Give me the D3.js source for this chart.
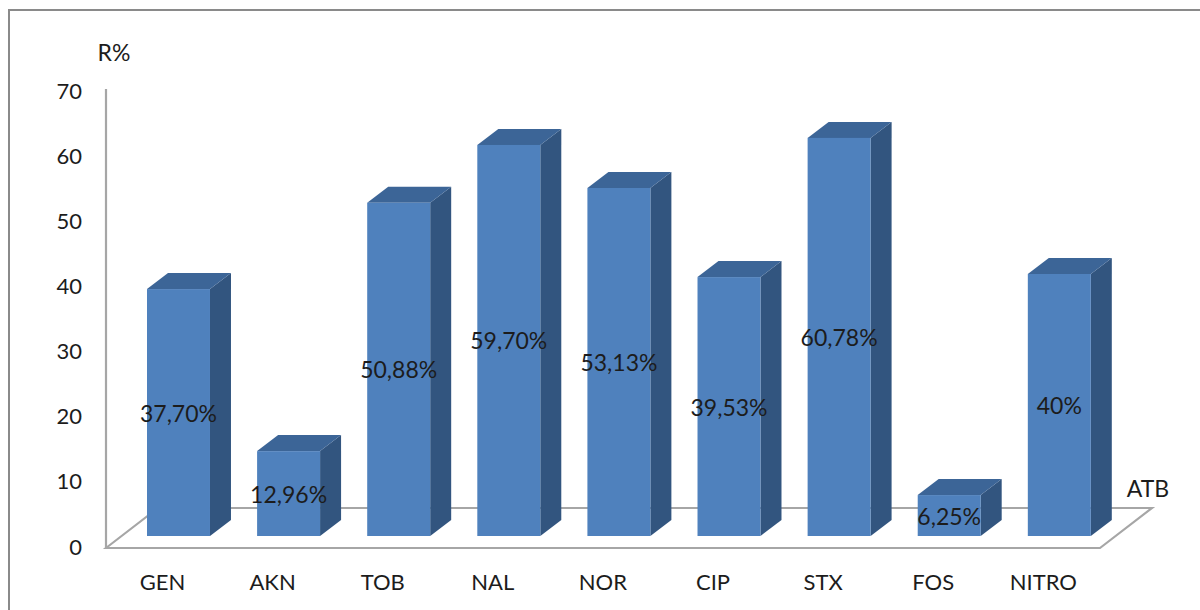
<!DOCTYPE html>
<html><head><meta charset="utf-8">
<script src="https://cdn.jsdelivr.net/npm/d3@7"></script>
<style>body{margin:0;background:#fff}svg{display:block}text{font-family:Lato,"Open Sans",sans-serif;fill:#1c1c1c}</style>
</head><body><svg id="c" width="1200" height="610"></svg>
<script>
const categories = ["GEN","AKN","TOB","NAL","NOR","CIP","STX","FOS","NITRO"];
const values = [37.70, 12.96, 50.88, 59.70, 53.13, 39.53, 60.78, 6.25, 40];
const valueLabels = ["37,70%","12,96%","50,88%","59,70%","53,13%","39,53%","60,78%","6,25%","40%"];
const yTicks = [0,10,20,30,40,50,60,70];
const yTitle = "R%";
const xTitle = "ATB";

const svg = d3.select("#c");
// chart border
svg.append("rect").attr("x",9).attr("y",10).attr("width",1230).attr("height",640)
  .attr("fill","none").attr("stroke","#8a8a8a").attr("stroke-width",2);

const x = d3.scaleBand().domain(categories).range([147, 1090.8]).paddingInner(0.428).paddingOuter(0);
const yBar = d3.scaleLinear().domain([0,70]).range([536, 536 - 70*6.55]);
const yAxisScale = d3.scaleLinear().domain([0,70]).range([546, 90]);
const dx = 21, dy = 16;         // bar depth
const fdx = 52, fdy = 40;       // floor depth
const axisX = 106, floorY = yAxisScale(0) + 2;
const floorRight = 1100;

// floor
const floorPts = [[axisX,floorY],[axisX+fdx,floorY-fdy],[floorRight+fdx,floorY-fdy],[floorRight,floorY]];
svg.append("polygon").attr("points",floorPts.map(p=>p.join(",")).join(" "))
  .attr("fill","none").attr("stroke","#a6a6a6").attr("stroke-width",2.2).attr("stroke-linejoin","miter");

// y axis line
svg.append("line").attr("x1",axisX).attr("x2",axisX).attr("y1",yAxisScale(70)-1).attr("y2",floorY)
  .attr("stroke","#a6a6a6").attr("stroke-width",2.2);

// tick labels
svg.append("g").selectAll("text").data(yTicks).join("text")
  .attr("x",82).attr("y",d=>yAxisScale(d)).attr("text-anchor","end").attr("dominant-baseline","central")
  .attr("font-size",22).text(d=>d);

// bars
const g = svg.append("g");
categories.forEach((c,i)=>{
  const x0 = x(c), w = x.bandwidth(), yt = yBar(values[i]), yb = yBar(0);
  g.append("polygon").attr("points",[[x0+w,yt],[x0+w+dx,yt-dy],[x0+w+dx,yb-dy],[x0+w,yb]].map(p=>p.join(",")).join(" "))
    .attr("fill","#32557f");
  g.append("polygon").attr("points",[[x0,yt],[x0+dx,yt-dy],[x0+w+dx,yt-dy],[x0+w,yt]].map(p=>p.join(",")).join(" "))
    .attr("fill","#3c6597");
  g.append("rect").attr("x",x0).attr("y",yt).attr("width",w).attr("height",yb-yt).attr("fill","#4f81bd");
});

// data labels
svg.append("g").selectAll("text").data(categories).join("text")
  .attr("x",c=>x(c)+x.bandwidth()/2).attr("y",(c,i)=>(yBar(values[i])+yBar(0))/2)
  .attr("text-anchor","middle").attr("dominant-baseline","central").attr("font-size",23)
  .text((c,i)=>valueLabels[i]);

// category labels
svg.append("g").selectAll("text").data(categories).join("text")
  .attr("x",c=>x(c)+x.bandwidth()/2-16).attr("y",590).attr("text-anchor","middle")
  .attr("font-size",22).text(c=>c);

svg.append("text").attr("x",114).attr("y",61).attr("text-anchor","middle").attr("font-size",23).text(yTitle);
svg.append("text").attr("x",1148).attr("y",497).attr("text-anchor","middle").attr("font-size",23).text(xTitle);
</script></body></html>
